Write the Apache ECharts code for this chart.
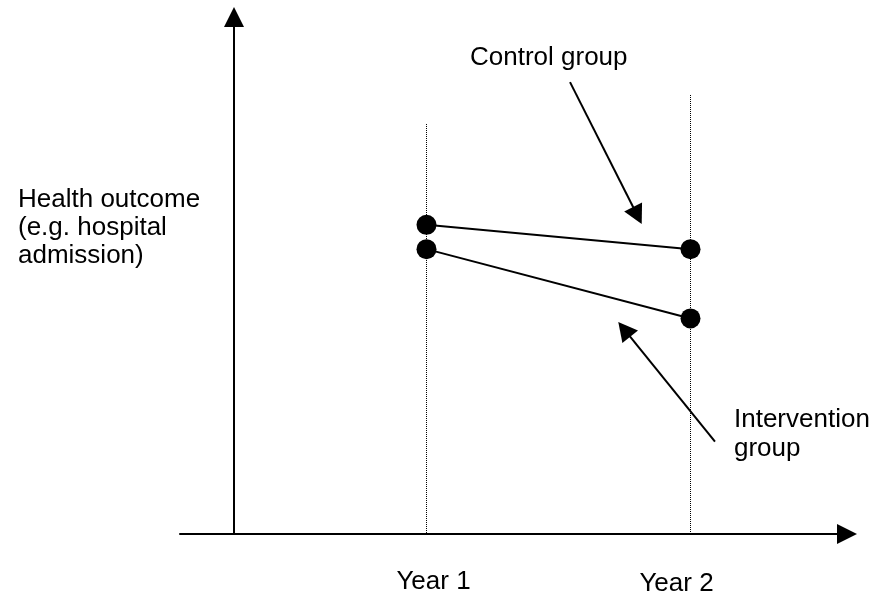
<!DOCTYPE html>
<html><head><meta charset="utf-8">
<script src="https://cdn.jsdelivr.net/npm/echarts@6/dist/echarts.min.js"></script>
<style>html,body{margin:0;padding:0;background:#fff}#c{width:874px;height:598px}</style>
</head><body><div id="c"></div>
<script>
// ---- data ----
const yearLabels = ['Year 1', 'Year 2'];
const yearX = [1, 2];
const controlValues = [59.8, 55.1];
const interventionValues = [55.1, 41.7];
const guideTops = [79.3, 84.913];          // top of dotted guide lines (y units)
const controlArrow = [[1.5436, 87.4], [1.7989, 61.6]];
const interventionArrow = [[2.0928, 17.85], [1.749, 39.6]];
const yAxisTitle = ['Health outcome', '(e.g. hospital', 'admission)'];
const controlLabel = 'Control group';
const interventionLabel = ['Intervention', 'group'];

const FONT = '"Liberation Sans", Arial, sans-serif';
const chart = echarts.init(document.getElementById('c'), null, {renderer: 'canvas'});

const pairs = (vals) => yearX.map((x, i) => [x, vals[i]]);

const option = {
  animation: false,
  backgroundColor: '#fff',
  grid: {left: 180, right: 27, top: 17, bottom: 64},
  xAxis: {
    type: 'value', min: 0.06629, max: 2.5928,
    axisLine: {show: true, onZero: true, symbol: ['none', 'triangle'], symbolSize: [20, 20],
      lineStyle: {color: '#000', width: 2}},
    axisTick: {show: false}, splitLine: {show: false},
    axisLabel: {
      customValues: yearX, margin: 35, verticalAlign: 'top',
      formatter: (v) => { const i = yearX.indexOf(v); return i === 0 ? '{a|' + yearLabels[0] + '}' : '{b|' + yearLabels[1] + '}'; },
      rich: {
        a: {fontSize: 26, fontFamily: FONT, color: '#000', padding: [0, 0, 0, 14]},
        b: {fontSize: 26, fontFamily: FONT, color: '#000', padding: [2, 28, 0, 0]}
      }
    }
  },
  yAxis: {
    type: 'value', min: 0, max: 100, offset: -54,
    axisLine: {show: true, onZero: false, symbol: ['none', 'triangle'], symbolSize: [20, 20],
      lineStyle: {color: '#000', width: 2}},
    axisTick: {show: false}, splitLine: {show: false}, axisLabel: {show: false}
  },
  series: [
    {
      name: 'guides', type: 'line', data: [], silent: true,
      markLine: {
        silent: true, symbol: ['none', 'none'], label: {show: false},
        lineStyle: {color: '#000', width: 1, type: [1, 1]},
        emphasis: {disabled: true},
        data: yearX.map((x, i) => [{coord: [x, guideTops[i]]}, {coord: [x, 0]}])
      }
    },
    {
      name: 'arrows', type: 'line', data: [], silent: true,
      markLine: {
        silent: true, symbol: ['none', 'triangle'], symbolSize: [20, 19], label: {show: false},
        lineStyle: {color: '#000', width: 2, type: 'solid'},
        emphasis: {disabled: true},
        data: [
          [{coord: controlArrow[0]}, {coord: controlArrow[1]}],
          [{coord: interventionArrow[0]}, {coord: interventionArrow[1]}]
        ]
      }
    },
    {
      name: 'Control group', type: 'line', data: pairs(controlValues), z: 5,
      symbol: 'circle', symbolSize: 20, showSymbol: true,
      itemStyle: {color: '#000'}, lineStyle: {color: '#000', width: 2}
    },
    {
      name: 'Intervention group', type: 'line', data: pairs(interventionValues), z: 5,
      symbol: 'circle', symbolSize: 20, showSymbol: true,
      itemStyle: {color: '#000'}, lineStyle: {color: '#000', width: 2}
    }
  ],
  graphic: [
    ...yAxisTitle.map((t, i) => ({type: 'text', x: 18, y: 200 + i * 28,
      style: {text: t, font: '26px ' + FONT, fill: '#000', verticalAlign: 'middle'}})),
    {type: 'text', x: 470, y: 57.5, style: {text: controlLabel, font: '26px ' + FONT, fill: '#000', verticalAlign: 'middle'}},
    ...interventionLabel.map((t, i) => ({type: 'text', x: 734, y: 420 + i * 29,
      style: {text: t, font: '26px ' + FONT, fill: '#000', verticalAlign: 'middle'}}))
  ]
};
chart.setOption(option);
</script>
</body></html>
